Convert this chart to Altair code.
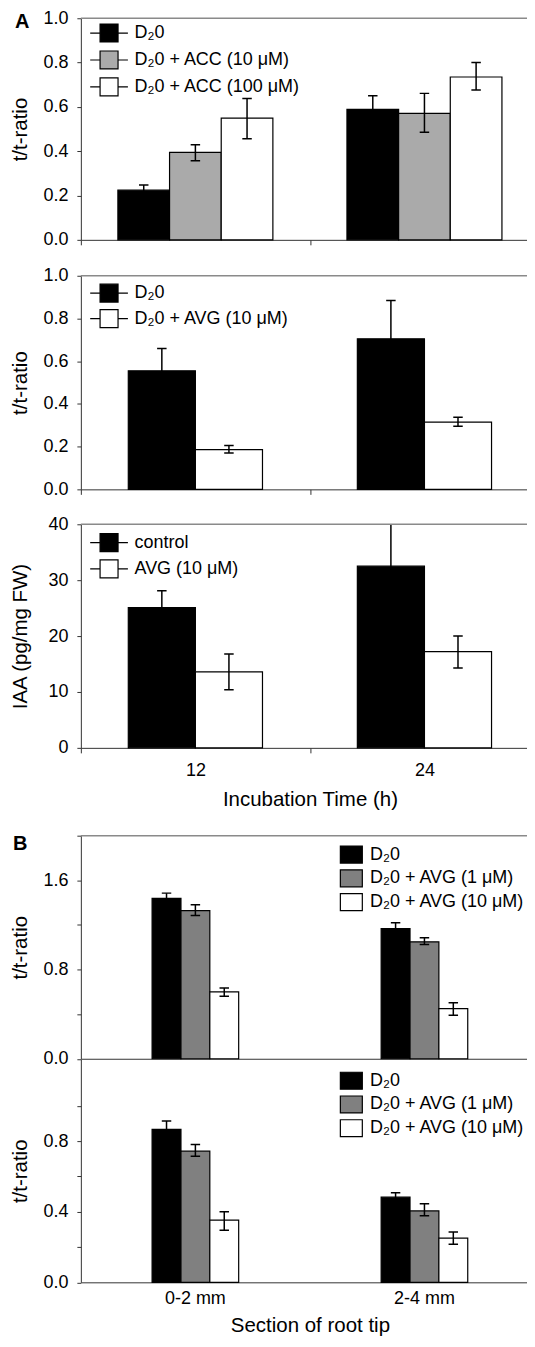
import altair as alt
import pandas as pd

FONT = "Liberation Sans"
W = 459

# ---------------- Panel A, top: t/t-ratio, ACC treatment ----------------
a_times = ["12", "24"]
a1_series = ["D₂0", "D₂0 + ACC (10 μM)", "D₂0 + ACC (100 μM)"]
a1_colors = ["#000000", "#aaaaaa", "#ffffff"]
a1_mean_12 = [0.224, 0.395, 0.549]
a1_mean_24 = [0.589, 0.571, 0.735]
a1_hi_12 = [0.247, 0.429, 0.638]
a1_hi_24 = [0.650, 0.661, 0.800]
a1_lo_12 = [0.201, 0.357, 0.456]
a1_lo_24 = [0.528, 0.486, 0.676]

# ---------------- Panel A, middle: t/t-ratio, AVG treatment ----------------
a2_series = ["D₂0", "D₂0 + AVG (10 μM)"]
a2_colors = ["#000000", "#ffffff"]
a2_mean_12 = [0.555, 0.186]
a2_mean_24 = [0.705, 0.315]
a2_hi_12 = [0.659, 0.205]
a2_hi_24 = [0.884, 0.338]
a2_lo_12 = [0.451, 0.170]
a2_lo_24 = [0.526, 0.295]

# ---------------- Panel A, bottom: IAA content ----------------
a3_series = ["control", "AVG (10 μM)"]
a3_colors = ["#000000", "#ffffff"]
a3_mean_12 = [25.1, 13.6]
a3_mean_24 = [32.5, 17.2]
a3_hi_12 = [28.1, 16.8]
a3_hi_24 = [41.5, 20.0]
a3_lo_12 = [22.1, 10.4]
a3_lo_24 = [23.5, 14.3]

# ---------------- Panel B: sections of root tip ----------------
b_sections = ["0-2 mm", "2-4 mm"]
b_series = ["D₂0", "D₂0 + AVG (1 μM)", "D₂0 + AVG (10 μM)"]
b_colors = ["#000000", "#808080", "#ffffff"]
b1_mean_02 = [1.438, 1.328, 0.599]
b1_mean_24 = [1.166, 1.048, 0.449]
b1_hi_02 = [1.485, 1.381, 0.635]
b1_hi_24 = [1.219, 1.084, 0.502]
b1_lo_02 = [1.391, 1.284, 0.561]
b1_lo_24 = [1.113, 1.024, 0.390]

b2_mean_02 = [0.867, 0.744, 0.353]
b2_mean_24 = [0.483, 0.405, 0.251]
b2_hi_02 = [0.915, 0.781, 0.400]
b2_hi_24 = [0.508, 0.446, 0.286]
b2_lo_02 = [0.819, 0.715, 0.296]
b2_lo_24 = [0.458, 0.377, 0.216]

# tick values / labels
a_ratio_ticks = [0.0, 0.2, 0.4, 0.6, 0.8, 1.0]
a_iaa_ticks = [0, 10, 20, 30, 40]
b1_ticks = [0.0, 0.4, 0.8, 1.2, 1.6, 2.0]
b1_labels = [0.0, 0.8, 1.6]
b2_ticks = [0.0, 0.2, 0.4, 0.6, 0.8, 1.0]
b2_labels = [0.0, 0.4, 0.8]


def frame(groups, series, means, his, los):
    rows = []
    for g, m, h, l in zip(groups, means, his, los):
        for s, mv, hv, lv in zip(series, m, h, l):
            rows.append(dict(group=g, series=s, mean=mv, hi=hv, lo=lv))
    return pd.DataFrame(rows)


def label_expr(labels):
    cond = " || ".join(f"abs(datum.value - {v}) < 0.001" for v in labels)
    return f"({cond}) ? format(datum.value, '.1f') : ''"


def panel(df, groups, series, colors, ydomain, yticks, ylabelexpr, ytitle,
          height, xpad, xopad, legend, xlabels, xtitle, xticks, top_line,
          tag=None, tag_xy=(0, 0), xlabpad=9, xtitlepad=10):
    xscale = alt.Scale(paddingInner=xpad, paddingOuter=xpad / 2)
    xoscale = alt.Scale(domain=series, paddingInner=0, paddingOuter=xopad)
    yscale = alt.Scale(domain=ydomain, nice=False, zero=True)
    yaxis_kw = dict(values=yticks, tickSize=4, labelPadding=9, labelFontSize=18,
                    labelColor="black", domainColor="#333", tickColor="#333",
                    grid=False, title=ytitle, titleX=-60, titleBaseline="middle",
                    titleFontSize=20.5, titleFontWeight="normal", titleColor="black")
    if ylabelexpr:
        yaxis_kw["labelExpr"] = ylabelexpr
    yaxis = alt.Axis(**yaxis_kw)

    xaxis_kw = dict(orient="bottom", labelAngle=0, domainColor="#333",
                    labels=xlabels, labelFontSize=18, labelColor="black",
                    ticks=xticks, grid=False)
    if xticks:
        xaxis_kw.update(tickBand="extent", tickSize=5, tickColor="#333", labelPadding=xlabpad)
    else:
        xaxis_kw.update(tickSize=0, labelPadding=xlabpad)
    if xtitle:
        xaxis_kw.update(title=xtitle, titleFontSize=20.5, titleFontWeight="normal",
                        titleColor="black", titlePadding=xtitlepad)
    else:
        xaxis_kw.update(title=None)
    xaxis = alt.Axis(**xaxis_kw)

    X = lambda ax: alt.X("group:N", scale=xscale, sort=groups, axis=ax)
    XO = alt.XOffset("series:N", scale=xoscale, sort=series)

    bars = alt.Chart(df).mark_bar(stroke="black", strokeWidth=1.2).encode(
        x=X(xaxis), xOffset=XO,
        y=alt.Y("mean:Q", scale=yscale, axis=yaxis),
        fill=alt.Fill("series:N", sort=series,
                      scale=alt.Scale(domain=series, range=colors), legend=legend),
    )
    stems = alt.Chart(df).mark_rule(color="black", strokeWidth=1.5, clip=True).encode(
        x=X(None), xOffset=XO,
        y=alt.Y("lo:Q", scale=yscale, axis=yaxis), y2="hi:Q",
    )
    cap_kw = dict(shape="M-1,0H1", size=90, filled=False, color="black",
                  strokeWidth=1.5, opacity=1, clip=True)
    caps_hi = alt.Chart(df).mark_point(**cap_kw).encode(
        x=X(None), xOffset=XO, y=alt.Y("hi:Q", scale=yscale, axis=yaxis))
    caps_lo = alt.Chart(df).mark_point(**cap_kw).encode(
        x=X(None), xOffset=XO, y=alt.Y("lo:Q", scale=yscale, axis=yaxis))
    layers = [bars, stems, caps_hi, caps_lo]
    if top_line:
        layers.append(
            alt.Chart(pd.DataFrame({"top": [ydomain[1]]})).mark_rule(
                color="#8a8a8a", strokeWidth=1.5).encode(
                y=alt.Y("top:Q", scale=yscale, axis=yaxis),
                x=alt.value(0), x2=alt.value(W)))
    if tag:
        layers.append(
            alt.Chart(pd.DataFrame({"t": [tag]})).mark_text(
                align="left", baseline="middle", fontSize=20, fontWeight="bold",
                color="black").encode(text="t:N", x=alt.value(tag_xy[0]),
                                      y=alt.value(tag_xy[1])))
    return alt.layer(*layers).resolve_axis(x="independent").properties(
        width=W, height=height)


A_SYM = "M-2.1,0H-1M1,0H2.1M-1,-1H1V1H-1Z"
B_SYM = "M-1.1,-0.85H1.1V0.85H-1.1Z"


def a_legend(y, rowpad):
    return alt.Legend(orient="none", legendX=18.25, legendY=y, title=None,
                      symbolType=A_SYM, symbolSize=324, symbolStrokeColor="black",
                      symbolStrokeWidth=1.2, labelFontSize=18, labelOffset=15.5,
                      rowPadding=rowpad, padding=0, labelColor="black",
                      labelLimit=400, symbolOffset=0)


def b_legend(y, rowpad):
    return alt.Legend(orient="none", legendX=260, legendY=y, title=None,
                      symbolType=B_SYM, symbolSize=400, symbolStrokeColor="black",
                      symbolStrokeWidth=1.2, labelFontSize=18, labelOffset=7.75,
                      rowPadding=rowpad, padding=0, labelColor="black",
                      labelLimit=400, symbolOffset=0)


def spacer(h):
    return alt.Chart(pd.DataFrame({"v": [0]})).mark_point(opacity=0).encode(
        x=alt.X("v:Q", axis=None), y=alt.Y("v:Q", axis=None)
    ).properties(width=W, height=h)


df_a1 = frame(a_times, a1_series, [a1_mean_12, a1_mean_24], [a1_hi_12, a1_hi_24], [a1_lo_12, a1_lo_24])
df_a2 = frame(a_times, a2_series, [a2_mean_12, a2_mean_24], [a2_hi_12, a2_hi_24], [a2_lo_12, a2_lo_24])
df_a3 = frame(a_times, a3_series, [a3_mean_12, a3_mean_24], [a3_hi_12, a3_hi_24], [a3_lo_12, a3_lo_24])
df_b1 = frame(b_sections, b_series, [b1_mean_02, b1_mean_24], [b1_hi_02, b1_hi_24], [b1_lo_02, b1_lo_24])
df_b2 = frame(b_sections, b_series, [b2_mean_02, b2_mean_24], [b2_hi_02, b2_hi_24], [b2_lo_02, b2_lo_24])

ratio_fmt = "format(datum.value, '.1f')"

pA1 = panel(df_a1, a_times, a1_series, a1_colors, [0, 1], a_ratio_ticks, ratio_fmt,
            "t/t-ratio", 222, 0, 0.717, a_legend(4.8, 3.0), False, None, True, True,
            tag="A", tag_xy=(-66, 4))
pA2 = panel(df_a2, a_times, a2_series, a2_colors, [0, 1], a_ratio_ticks, ratio_fmt,
            "t/t-ratio", 214, 0, 0.707, a_legend(7.4, 1.5), False, None, True, True)
pA3 = panel(df_a3, a_times, a3_series, a3_colors, [0, 40], a_iaa_ticks, None,
            "IAA (pg/mg FW)", 224, 0, 0.707, a_legend(8.3, 2.4), True,
            "Incubation Time (h)", True, True)
pB1 = panel(df_b1, b_sections, b_series, b_colors, [0, 2.0], b1_ticks, label_expr(b1_labels),
            "t/t-ratio", 223.5, 0.622, 0, b_legend(7.9, 1.8), False, None, False, True,
            tag="B", tag_xy=(-68, 8))
pB2 = panel(df_b2, b_sections, b_series, b_colors, [0, 1.265], b2_ticks, label_expr(b2_labels),
            "t/t-ratio", 223.5, 0.622, 0, b_legend(10.5, 1.8), True, "Section of root tip",
            False, False, xlabpad=7, xtitlepad=8)

chart = alt.vconcat(
    pA1, spacer(36), pA2, spacer(35), pA3, spacer(88), pB1, pB2,
    spacing=0, bounds="flush",
).resolve_scale(
    x="independent", y="independent", fill="independent", xOffset="independent"
).resolve_legend(fill="independent").properties(
    padding={"left": 2, "top": 0, "right": -13, "bottom": 0},
).configure(font=FONT).configure_view(stroke=None)

chart.save("out.html", embed_options={"renderer": "svg", "actions": False})
